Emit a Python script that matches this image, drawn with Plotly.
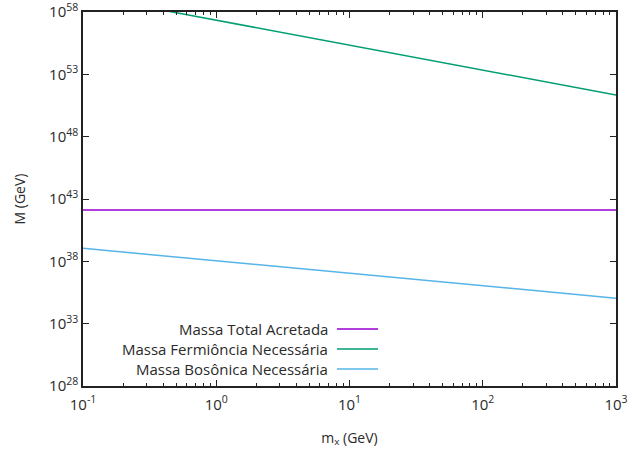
import plotly.graph_objects as go

# Data
mx = [0.1, 1, 10, 100, 1000]
massa_total = [1.3e42, 1.3e42, 1.3e42, 1.3e42, 1.3e42]
massa_fermionica = [2.2e59, 2.2e57, 2.2e55, 2.2e53, 2.2e51]
massa_bosonica = [1.1e39, 1.1e38, 1.1e37, 1.1e36, 1.1e35]

names = ["Massa Total Acretada", "Massa Fermiôncia Necessária", "Massa Bosônica Necessária"]
colors = ["#9400d3", "#009e73", "#56b4e9"]
series = [massa_total, massa_fermionica, massa_bosonica]

y_tickvals = [1e28, 1e33, 1e38, 1e43, 1e48, 1e53, 1e58]
y_ticktext = ["10<sup>28</sup>", "10<sup>33</sup>", "10<sup>38</sup>", "10<sup>43</sup>",
              "10<sup>48</sup>", "10<sup>53</sup>", "10<sup>58</sup>"]
x_tickvals = [0.1, 1, 10, 100, 1000]
x_ticktext = ["10<sup>-1</sup>", "10<sup>0</sup>", "10<sup>1</sup>", "10<sup>2</sup>", "10<sup>3</sup>"]

FONT = "Open Sans"
TXT = "#2a2a2a"

fig = go.Figure()
for name, col, ys in zip(names, colors, series):
    fig.add_trace(go.Scatter(x=mx, y=ys, mode="lines", name=name,
                             line=dict(color=col, width=1.5), showlegend=False))

# Manual legend (gnuplot style: text then sample line)
leg_y = [329, 349, 369]
for i, (name, col) in enumerate(zip(names, colors)):
    fig.add_annotation(text=name, xref="paper", yref="paper",
                       x=(330 - 83) / 533, y=(386 - leg_y[i]) / 374,
                       xanchor="right", yanchor="middle", showarrow=False,
                       font=dict(family=FONT, size=15, color=TXT))
    fig.add_shape(type="line", xref="paper", yref="paper",
                  x0=(337 - 83) / 533, x1=(378 - 83) / 533,
                  y0=(386 - leg_y[i]) / 374, y1=(386 - leg_y[i]) / 374,
                  line=dict(color=col, width=1.3))

axis_common = dict(showline=True, linecolor="#222", linewidth=1.5, mirror="allticks",
                   ticks="inside", ticklen=6, tickcolor="#222", showgrid=False,
                   zeroline=False, automargin=False, ticklabeloverflow="allow",
                   tickfont=dict(family=FONT, size=15, color=TXT))

fig.update_xaxes(type="log", range=[-1.0000001, 3.0000001], tickvals=x_tickvals, ticktext=x_ticktext,
                 minor=dict(ticks="inside", ticklen=3, tickcolor="#222", dtick="D1", showgrid=False),
                 ticklabelstandoff=4,
                 title=dict(text="m<sub>x</sub> (GeV)", font=dict(family=FONT, size=14, color=TXT), standoff=20),
                 **axis_common)
fig.update_yaxes(type="log", range=[27.9999999, 58.0000001], tickvals=y_tickvals, ticktext=y_ticktext,
                 title=dict(text="M (GeV)", font=dict(family=FONT, size=14, color=TXT), standoff=20),
                 **axis_common)

fig.update_layout(width=629, height=450, margin=dict(l=83, r=13, t=12, b=64),
                  plot_bgcolor="white", paper_bgcolor="white",
                  font=dict(family=FONT, size=14, color=TXT))

fig.write_html("out.html")
